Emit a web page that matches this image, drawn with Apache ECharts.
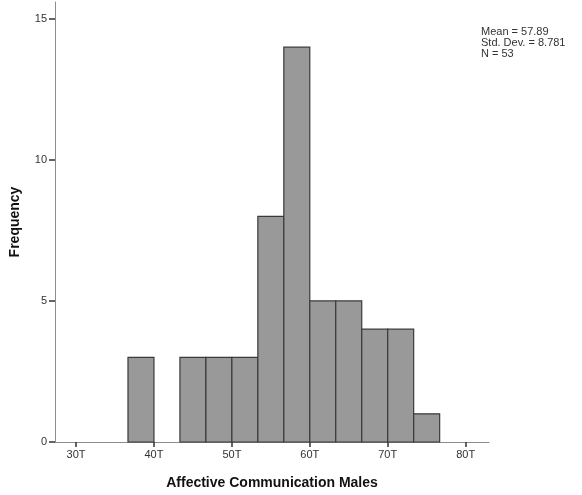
<!DOCTYPE html>
<html>
<head>
<meta charset="utf-8">
<script src="https://cdn.jsdelivr.net/npm/echarts@6/dist/echarts.min.js"></script>
<style>
  html, body { margin: 0; padding: 0; background: #fff; }
  #chart { width: 582px; height: 495px; }
</style>
</head>
<body>
<div id="chart"></div>
<script>
// Histogram of Affective Communication scores (T-scores), male respondents
const binLower = [36.667, 40.0, 43.333, 46.667, 50.0, 53.333, 56.667, 60.0, 63.333, 66.667, 70.0, 73.333];
const binUpper = [40.0, 43.333, 46.667, 50.0, 53.333, 56.667, 60.0, 63.333, 66.667, 70.0, 73.333, 76.667];
const frequency = [3, 0, 3, 3, 3, 8, 14, 5, 5, 4, 4, 1];

const xTickValues = [30, 40, 50, 60, 70, 80];
const xTickLabels = ['30T', '40T', '50T', '60T', '70T', '80T'];
const yTickValues = [0, 5, 10, 15];

const statsLines = ['Mean = 57.89', 'Std. Dev. = 8.781', 'N = 53'];

const histData = binLower.map((lo, i) => [lo, binUpper[i], frequency[i]]);

const chart = echarts.init(document.getElementById('chart'), null, { renderer: 'canvas' });
const font = '"Liberation Sans", Arial, sans-serif';

chart.setOption({
  animation: false,
  backgroundColor: '#ffffff',
  grid: { left: 55, right: 93, top: 2, bottom: 53, containLabel: false, outerBoundsMode: 'none' },
  xAxis: {
    type: 'value',
    min: 27.3,
    max: 83.0,
    name: 'Affective Communication Males',
    nameLocation: 'middle',
    nameGap: 34,
    nameTextStyle: { fontFamily: font, fontWeight: 'bold', fontSize: 14, color: '#111' },
    axisLine: { show: true, onZero: false, lineStyle: { color: '#8c8c8c', width: 1 } },
    axisTick: { show: true, length: 5, lineStyle: { color: '#333', width: 1.5 }, customValues: xTickValues },
    axisLabel: {
      customValues: xTickValues,
      formatter: v => xTickLabels[xTickValues.indexOf(Math.round(v))] || '',
      fontFamily: font, fontSize: 11, color: '#333', margin: 7
    },
    splitLine: { show: false }
  },
  yAxis: {
    type: 'value',
    min: 0,
    max: 15.6,
    name: 'Frequency',
    nameLocation: 'middle',
    nameGap: 33,
    nameRotate: 90,
    nameTextStyle: { fontFamily: font, fontWeight: 'bold', fontSize: 14, color: '#111' },
    axisLine: { show: true, onZero: false, lineStyle: { color: '#8c8c8c', width: 1 } },
    axisTick: { show: true, length: 6, lineStyle: { color: '#333', width: 1.5 }, customValues: yTickValues },
    axisLabel: {
      customValues: yTickValues,
      fontFamily: font, fontSize: 11, color: '#333', margin: 8
    },
    splitLine: { show: false }
  },
  series: [{
    type: 'custom',
    data: histData,
    encode: { x: [0, 1], y: 2 },
    renderItem: function (params, api) {
      const lo = api.value(0), hi = api.value(1), n = api.value(2);
      if (!n) return null;
      const p0 = api.coord([lo, n]);
      const p1 = api.coord([hi, 0]);
      return {
        type: 'rect',
        shape: { x: p0[0], y: p0[1], width: p1[0] - p0[0], height: p1[1] - p0[1] },
        style: { fill: '#999999', stroke: '#3a3a3a', lineWidth: 1.2 }
      };
    }
  }],
  graphic: [{
    type: 'text',
    left: 481,
    top: 26,
    style: {
      text: statsLines.join('\n'),
      fontFamily: font,
      fontSize: 11,
      lineHeight: 11,
      fill: '#333'
    }
  }]
});
</script>
</body>
</html>
